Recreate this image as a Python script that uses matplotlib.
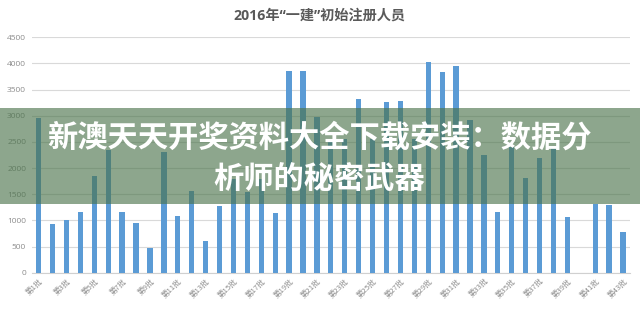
import matplotlib
matplotlib.use("Agg")
import matplotlib.pyplot as plt
from matplotlib.patches import Rectangle

plt.rcParams['font.family'] = ['Noto Sans CJK SC', 'DejaVu Sans']
plt.rcParams['hatch.color'] = '#dcdcdc'
plt.rcParams['hatch.linewidth'] = 0.6

# ---- data ----
batches = [f"第{i}批" for i in range(1, 44)]
values = [2950, 940, 1010, 1165, 1855, 2345, 1165, 955, 470, 2300,
          1090, 1570, 615, 1270, 1800, 1545, 1800, 1150, 3860, 3860,
          2970, 2550, 2550, 3315, 2550, 3255, 3285, 2550, 4020, 3845,
          3950, 2920, 2250, 1165, 2400, 1815, 2190, 2400, 1060, 0,
          1320, 1295, 775]
yticks = [0, 500, 1000, 1500, 2000, 2500, 3000, 3500, 4000, 4500]
title = "2016年“一建”初始注册人员"
banner = "新澳天天开奖资料大全下载安装：数据分\n析师的秘密武器"

W, H = 640, 313
fig = plt.figure(figsize=(W / 100, H / 100), dpi=100)
fig.patch.set_facecolor('white')

# dotted background
bg = Rectangle((0, 0), 1, 1, transform=fig.transFigure, facecolor='white',
               edgecolor='none', hatch='....', zorder=-10)
fig.add_artist(bg)

left, right, bottom, top = 31.7, 630.0, 272.7, 37.3
ax = fig.add_axes([left / W, 1 - bottom / H, (right - left) / W, (bottom - top) / H])
ax.patch.set_alpha(0)

x = list(range(1, len(values) + 1))
ax.bar(x, values, width=0.38, color='#5b9bd5', zorder=3)

ax.set_xlim(0.5, len(values) + 0.5)
ax.set_ylim(0, 4500)
ax.set_yticks(yticks)
ax.set_yticklabels([str(v) for v in yticks], fontsize=6, color='#8c8c8c',
                   family=['Open Sans', 'DejaVu Sans'])
ax.yaxis.grid(True, color='#d9d9d9', linewidth=0.8, zorder=0)
ax.set_axisbelow(True)
for s in ['left', 'right', 'top']:
    ax.spines[s].set_visible(False)
ax.spines['bottom'].set_color('#d0d0d0')
ax.spines['bottom'].set_linewidth(0.8)
ax.tick_params(axis='y', length=0, pad=4)
ax.tick_params(axis='x', length=0, pad=3)

tick_pos = x[::2]
ax.set_xticks(tick_pos)
ax.set_xticklabels(batches[::2], rotation=45, ha='right', va='top',
                   rotation_mode='anchor', fontsize=5.5, color='#8c8c8c')

fig.text(319.5 / W, 1 - 15.5 / H, title, ha='center', va='center',
         fontsize=10.2, fontweight='bold', color='#595959',
         family=['Open Sans', 'Noto Sans CJK SC'])

# banner overlay
band = Rectangle((0, 1 - 204 / H), 1, 96 / H, transform=fig.transFigure,
                 facecolor=(74 / 255, 115 / 255, 74 / 255), alpha=0.63,
                 edgecolor='none', zorder=20)
fig.add_artist(band)
fig.text(319 / W, 1 - 158 / H, banner, ha='center', va='center',
         fontsize=21.8, fontweight='heavy', color='white', linespacing=1.38,
         zorder=21)

fig.savefig('out.png', dpi=100)
